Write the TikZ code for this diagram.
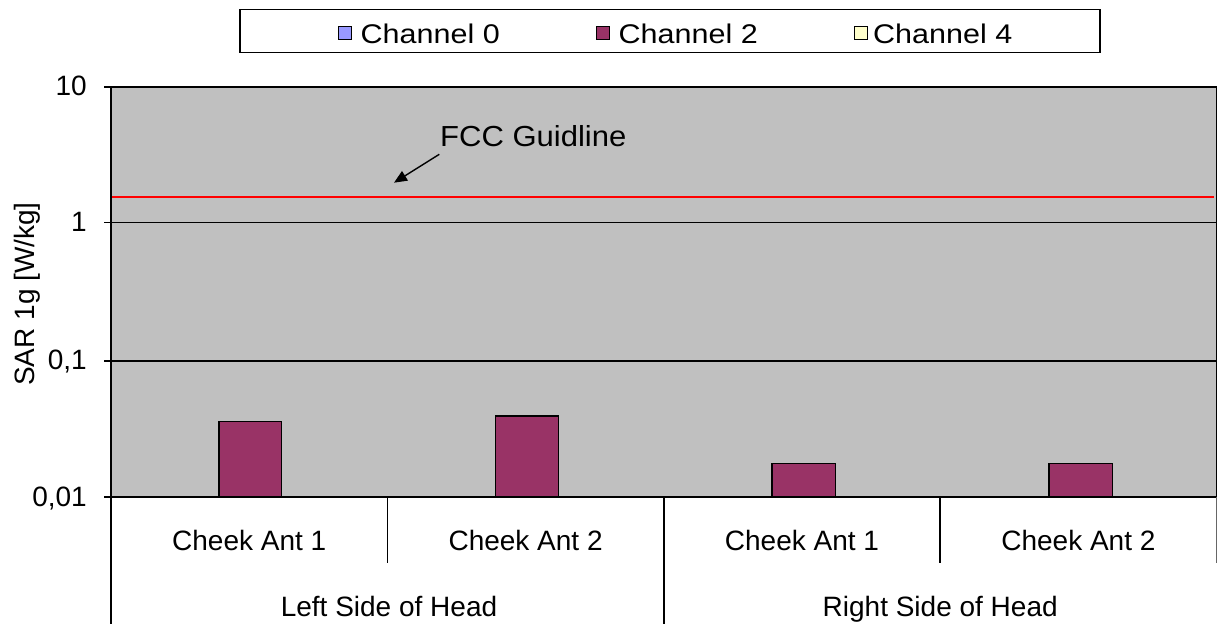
\documentclass[tikz,border=0pt]{standalone}
\usepackage{fontspec}
\setmainfont{Liberation Sans}
\usetikzlibrary{arrows.meta}
\definecolor{plotgray}{HTML}{C0C0C0}
\definecolor{barcol}{HTML}{993366}
\definecolor{chzero}{HTML}{9999FF}
\definecolor{chfour}{HTML}{FFFFCC}
\definecolor{fccred}{HTML}{FF0000}
\newcommand{\legtxt}[1]{\scalebox{1.13}[1]{#1}}
\tikzset{
  axisline/.style={line width=2pt, black},
  gridline/.style={line width=1.8pt, black},
  divline/.style={line width=1.5pt, black},
  barbox/.style={fill=barcol, draw=black, line width=1.2pt},
  marker/.style={draw=black, line width=1pt, minimum width=13pt, minimum height=13pt, inner sep=0pt, outer sep=0pt},
  legtext/.style={anchor=base west, inner sep=0pt, font=\fontsize{27}{30}\selectfont},
  ticklabel/.style={anchor=base east, inner sep=0pt, font=\fontsize{28}{32}\selectfont},
  catlabel/.style={anchor=base, inner sep=0pt, font=\fontsize{28}{32}\selectfont},
}
\begin{document}
\begin{tikzpicture}[x=1pt,y=-1pt]
\useasboundingbox[fill=white] (0,0) rectangle (1218,624);
% plot area
\fill[plotgray] (111,86.7) rectangle (1216.7,497.3);
% gridlines with ticks
\draw[gridline] (104,86.7) -- (1216.7,86.7);
\draw[gridline] (104,222.5) -- (1216.7,222.5);
\draw[gridline] (104,360.7) -- (1216.7,360.7);
% red guideline
\draw[fccred, line width=2pt] (111,197.3) -- (1214,197.3);
% bars
\draw[barbox] (219,497.3) rectangle (281.6,421.2);
\draw[barbox] (495.5,497.3) rectangle (558.8,416);
\draw[barbox] (772,497.3) rectangle (835.3,463.3);
\draw[barbox] (1049,497.3) rectangle (1112.4,463.3);
% axes and borders
\draw[gridline] (104,497.3) -- (1216.7,497.3);
\draw[axisline] (111,86.7) -- (111,624);
\draw[divline] (1216.7,86.7) -- (1216.7,497.3);
\draw[line width=1pt, black!60] (1216.7,497.3) -- (1216.7,563);
\draw[divline] (387.4,497.3) -- (387.4,563);
\draw[divline] (663.8,497.3) -- (663.8,624);
\draw[divline] (940.2,497.3) -- (940.2,563);
% tick labels
\node[ticklabel] (t10) at (87,95.5) {10};
\node[ticklabel] (t1) at (87,231.5) {1};
\node[ticklabel] (t01) at (87,369.7) {0,1};
\node[ticklabel] (t001) at (87,506.3) {0,01};
% y axis title
\node[rotate=90, inner sep=0pt, font=\fontsize{28}{32}\selectfont] (ytitle) at (27.5,294) {SAR 1g [W/kg]};
% category labels
\node[catlabel] (c1) at (249.2,550) {Cheek Ant 1};
\node[catlabel] (c2) at (525.6,550) {Cheek Ant 2};
\node[catlabel] (c3) at (802,550) {Cheek Ant 1};
\node[catlabel] (c4) at (1078.4,550) {Cheek Ant 2};
\node[catlabel] (g1) at (389,616) {Left Side of Head};
\node[catlabel] (g2) at (940.2,616) {Right Side of Head};
% FCC label and arrow
\node[anchor=base west, inner sep=0pt, font=\fontsize{29}{32}\selectfont] (fcc) at (440,146.7) {\scalebox{1.07}[1]{FCC Guidline}};
\coordinate (arrowstart) at (439.3,154.3);
\coordinate (arrowtip) at (394,182.7);
\draw[line width=1.4pt, -{Triangle[length=13pt,width=11pt]}] (arrowstart) -- (arrowtip);
% legend
\node[draw=black, line width=1.4pt, minimum width=860pt, minimum height=43.4pt, inner sep=0pt] (legend) at (670,31) {};
\node[marker, fill=chzero] (m0) at (345,33) {};
\node[marker, fill=barcol] (m2) at (603.3,33) {};
\node[marker, fill=chfour] (m4) at (861.3,33) {};
\node[legtext] (l0) at (360.5,43) {\legtxt{Channel 0}};
\node[legtext] (l2) at (618.5,43) {\legtxt{Channel 2}};
\node[legtext] (l4) at (873,43) {\legtxt{Channel 4}};
\end{tikzpicture}
\end{document}
